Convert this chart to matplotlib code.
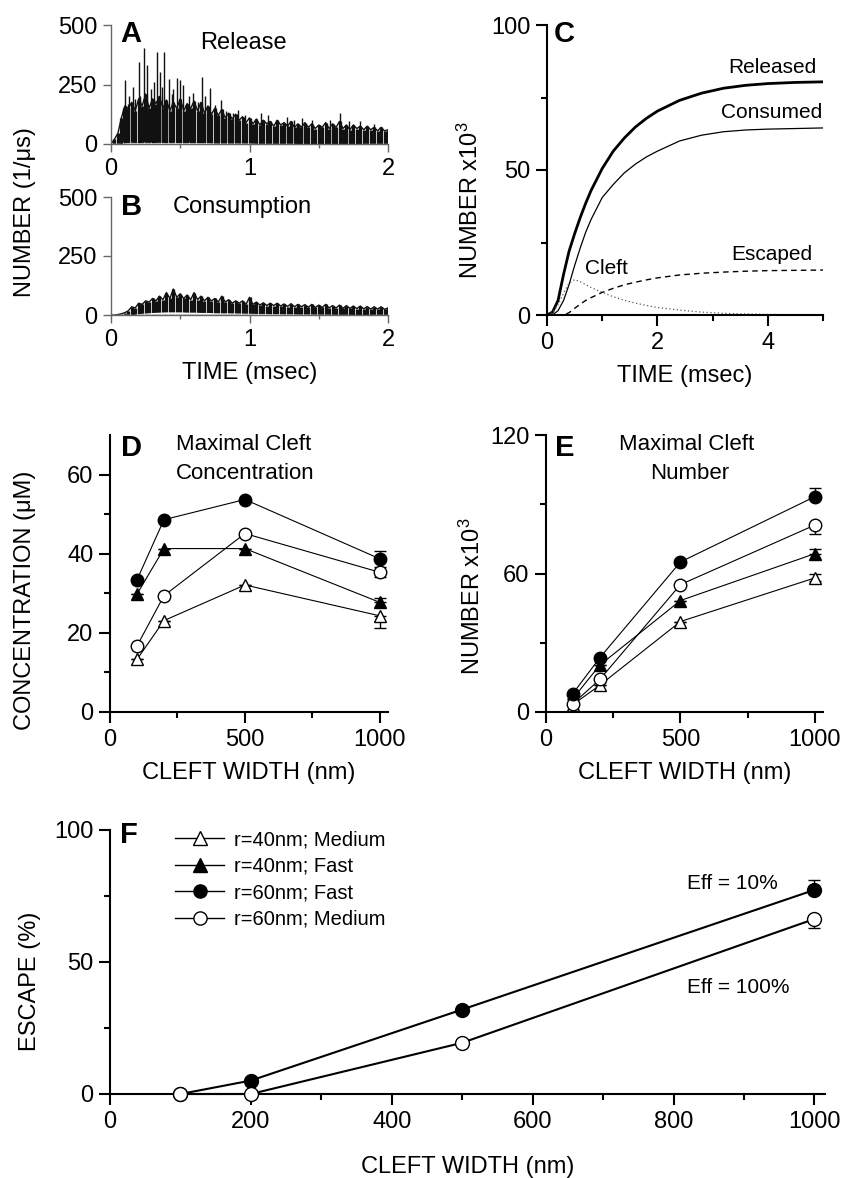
import matplotlib
matplotlib.use('Agg')
import matplotlib.pyplot as plt
import numpy as np
from matplotlib.lines import Line2D
from matplotlib.ticker import FixedLocator

plt.rcParams['font.family'] = ['Liberation Sans', 'DejaVu Sans']
plt.rcParams['mathtext.fontset'] = 'custom'
plt.rcParams['mathtext.rm'] = 'Liberation Sans'
plt.rcParams['mathtext.it'] = 'Liberation Sans:italic'

# ---------------- data ----------------
# Panels A/B: coarse time bins (ms): lower edge of each trace (1/us)
t_bins = [0.00, 0.05, 0.10, 0.15, 0.20, 0.25, 0.30, 0.35, 0.40, 0.45, 0.50,
          0.55, 0.60, 0.65, 0.70, 0.75, 0.80, 0.85, 0.90, 0.95, 1.00,
          1.05, 1.10, 1.15, 1.20, 1.25, 1.30, 1.35, 1.40, 1.45, 1.50,
          1.55, 1.60, 1.65, 1.70, 1.75, 1.80, 1.85, 1.90, 1.95, 2.00]
release_low = [0, 0, 10, 12, 10, 12, 10, 12, 10, 12, 10,
               10, 10, 10, 10, 8, 8, 8, 8, 8, 8,
               6, 6, 6, 6, 6, 6, 5, 5, 5, 5,
               5, 5, 5, 5, 5, 5, 4, 4, 4, 4]
consume_low = [0, 0, 0, 4, 10, 14, 18, 20, 22, 22, 22,
               20, 20, 18, 18, 16, 15, 15, 14, 13, 12,
               11, 11, 10, 10, 9, 9, 8, 8, 8, 7,
               7, 6, 6, 6, 5, 5, 5, 4, 4, 4]

# fine time grid (ms) and peak values of each trace (1/us)
t_fine = [0.000, 0.025, 0.050, 0.075, 0.100, 0.125, 0.150, 0.175, 0.200, 0.225,
          0.250, 0.275, 0.300, 0.325, 0.350, 0.375, 0.400, 0.425, 0.450, 0.475,
          0.500, 0.525, 0.550, 0.575, 0.600, 0.625, 0.650, 0.675, 0.700, 0.725,
          0.750, 0.775, 0.800, 0.825, 0.850, 0.875, 0.900, 0.925, 0.950, 0.975,
          1.000, 1.025, 1.050, 1.075, 1.100, 1.125, 1.150, 1.175, 1.200, 1.225,
          1.250, 1.275, 1.300, 1.325, 1.350, 1.375, 1.400, 1.425, 1.450, 1.475,
          1.500, 1.525, 1.550, 1.575, 1.600, 1.625, 1.650, 1.675, 1.700, 1.725,
          1.750, 1.775, 1.800, 1.825, 1.850, 1.875, 1.900, 1.925, 1.950, 1.975,
          2.000]
release_peaks = [0, 20, 45, 110, 160, 150, 175, 140, 190, 160,
                 210, 150, 190, 170, 200, 150, 185, 140, 175, 150,
                 190, 140, 170, 150, 180, 140, 175, 130, 160, 125,
                 150, 120, 145, 110, 130, 105, 125, 100, 115, 90,
                 110, 85, 105, 80, 100, 85, 95, 75, 100, 80,
                 90, 75, 95, 70, 85, 70, 90, 70, 85, 65,
                 80, 70, 90, 65, 85, 70, 95, 65, 80, 60,
                 80, 65, 75, 60, 75, 60, 70, 55, 70, 55,
                 60]
consume_peaks = [0, 0, 2, 5, 10, 18, 35, 30, 50, 45,
                 60, 55, 70, 60, 80, 65, 95, 70, 110, 75,
                 90, 70, 85, 65, 95, 65, 80, 60, 75, 60,
                 70, 55, 80, 55, 65, 50, 60, 50, 60, 45,
                 75, 45, 55, 42, 52, 40, 50, 40, 50, 38,
                 47, 36, 48, 35, 45, 35, 44, 33, 45, 32,
                 42, 32, 45, 30, 40, 30, 42, 28, 40, 28,
                 38, 27, 38, 26, 36, 25, 35, 25, 35, 24,
                 30]
release_spike_t = [0.090, 0.104, 0.120, 0.130, 0.161, 0.170, 0.200, 0.210, 0.236,
                   0.258, 0.289, 0.310, 0.330, 0.357, 0.370, 0.386, 0.417, 0.440,
                   0.450, 0.475, 0.500, 0.520, 0.542, 0.560, 0.590, 0.630, 0.655,
                   0.680, 0.716, 0.750, 0.795, 0.830, 0.880, 0.916, 0.970, 1.080,
                   1.130, 1.270, 1.320, 1.380, 1.450, 1.580, 1.655, 1.720, 1.800,
                   1.900]
release_spike_h = [150, 269, 170, 200, 238, 190, 346, 200, 405,
                   332, 230, 260, 385, 304, 240, 388, 272, 210,
                   230, 276, 269, 250, 164, 200, 213, 175, 280,
                   200, 234, 165, 185, 140, 130, 143, 120, 129,
                   120, 115, 100, 110, 100, 100, 129, 95, 95,
                   85]

# Panel C: cumulative numbers (x10^3)
C_t = [0, 0.1, 0.2, 0.3, 0.4, 0.5, 0.6, 0.7, 0.8, 1.0, 1.2, 1.4, 1.6, 1.8,
       2.0, 2.4, 2.8, 3.2, 3.6, 4.0, 4.5, 5.0]
released = [0, 1, 5, 14, 22, 28, 33.5, 38.5, 43, 50.5, 56.5, 61, 64.8, 67.8,
            70.3, 74, 76.5, 78.2, 79.2, 79.8, 80.2, 80.4]
consumed = [0, 0, 1.5, 5, 10.5, 17, 23, 28.5, 33, 40.5, 45, 49, 52, 54.5,
            56.5, 60, 62, 63.2, 63.8, 64.1, 64.3, 64.5]
escaped = [0, 0, 0, 0, 0.8, 2.3, 3.7, 5, 6, 7.8, 9.2, 10.4, 11.3, 12.1,
           12.8, 13.8, 14.4, 14.8, 15.1, 15.3, 15.4, 15.5]
cleft = [0, 0.8, 3.5, 7.5, 11, 12.2, 11.5, 10.5, 9.5, 7.8, 6.3, 5.1, 4.1, 3.3,
         2.6, 1.7, 1.0, 0.6, 0.35, 0.2, 0.1, 0]

# Panels D, E, F
widths = [100, 200, 500, 1000]
labels = ['r=40nm; Medium', 'r=40nm; Fast', 'r=60nm; Fast', 'r=60nm; Medium']

D_r40_med = [13.3, 23.1, 32.1, 24.3]
D_r40_fast = [29.8, 41.3, 41.3, 27.7]
D_r60_fast = [33.4, 48.6, 53.7, 38.7]
D_r60_med = [16.7, 29.4, 45.1, 35.3]
D_err_lo = {'r40_med': [0, 0, 0, 3.0], 'r40_fast': [0, 0, 0, 0],
            'r60_fast': [0, 0, 0, 0], 'r60_med': [0, 0, 0, 1.3]}
D_err_hi = {'r40_med': [0, 0, 0, 0], 'r40_fast': [0, 0, 0, 1.2],
            'r60_fast': [0, 0, 0, 1.9], 'r60_med': [0, 0, 0, 1.3]}

E_r40_med = [3.2, 11.6, 39.2, 58.1]
E_r40_fast = [5.8, 20.3, 48.3, 68.6]
E_r60_fast = [8.0, 23.5, 65.0, 93.3]
E_r60_med = [3.6, 14.1, 55.2, 81.0]
E_err_lo = {'r40_med': [0, 0, 0, 1.5], 'r40_fast': [0, 0, 0, 0],
            'r60_fast': [0, 0, 0, 0], 'r60_med': [0, 0, 0, 3.8]}
E_err_hi = {'r40_med': [0, 0, 0, 1.5], 'r40_fast': [0, 0, 0, 2.1],
            'r60_fast': [0, 0, 0, 3.9], 'r60_med': [0, 0, 0, 0]}

F_r60_fast = [0, 5.1, 32.0, 77.3]
F_r60_med = [0, 0, 19.4, 66.3]
F_err_lo = {'r60_fast': [0, 0, 0, 0], 'r60_med': [0, 0, 0, 3.4]}
F_err_hi = {'r60_fast': [0, 0, 0, 3.8], 'r60_med': [0, 0, 0, 0]}

# ---------------- figure ----------------
W, H = 842, 1178
fig = plt.figure(figsize=(W / 100, H / 100), dpi=100)


def px_axes(x0, x1, ytop, ybot):
    return fig.add_axes([x0 / W, 1 - ybot / H, (x1 - x0) / W, (ybot - ytop) / H])


TICK = 17
LAB = 17
INK = '#111111'


def style(ax, lw=1.5, color='k', maj=8, mino=4.5):
    for s in ['top', 'right']:
        ax.spines[s].set_visible(False)
    for s in ['left', 'bottom']:
        ax.spines[s].set_linewidth(lw)
        ax.spines[s].set_color(color)
    ax.tick_params(which='major', direction='out', length=maj, width=lw,
                   color=color, labelsize=TICK, pad=4)
    ax.tick_params(which='minor', direction='out', length=mino, width=lw,
                   color=color)


def trace(ax, low, peaks):
    ax.vlines(t_fine, 0, peaks, color=INK, lw=2.35, zorder=2)
    ax.plot(t_fine, peaks, color=INK, lw=1.0, zorder=2)
    # thin white streak between the trace minimum and the baseline
    ax.fill_between(t_bins, 3, np.array(low) * 0.6, color='white', lw=0, zorder=2.5)


# Panel A
axA = px_axes(111, 388, 25, 144)
trace(axA, release_low, release_peaks)
axA.vlines(release_spike_t, 8, release_spike_h, color=INK, lw=1.0, zorder=3)
axA.set_xlim(0, 2)
axA.set_ylim(0, 500)
axA.xaxis.set_major_locator(FixedLocator([0, 1, 2]))
axA.xaxis.set_minor_locator(FixedLocator([0.5, 1.5]))
axA.yaxis.set_major_locator(FixedLocator([0, 250, 500]))
style(axA, lw=1.0, color='0.4', maj=6, mino=3)
axA.text(0.032, 0.857, 'A', transform=axA.transAxes, fontsize=21, fontweight='bold')
axA.text(0.321, 0.80, 'Release', transform=axA.transAxes, fontsize=17)

# Panel B
axB = px_axes(111, 388, 197, 315)
trace(axB, consume_low, consume_peaks)
axB.set_xlim(0, 2)
axB.set_ylim(0, 500)
axB.xaxis.set_major_locator(FixedLocator([0, 1, 2]))
axB.xaxis.set_minor_locator(FixedLocator([0.5, 1.5]))
axB.yaxis.set_major_locator(FixedLocator([0, 250, 500]))
style(axB, lw=1.0, color='0.4', maj=6, mino=3)
axB.set_xlabel('TIME (msec)', fontsize=LAB, labelpad=8)
axB.text(0.035, 0.847, 'B', transform=axB.transAxes, fontsize=21, fontweight='bold')
axB.text(0.224, 0.864, 'Consumption', transform=axB.transAxes, fontsize=17)
fig.text(25 / W, 1 - 212 / H, 'NUMBER (1/\u03bcs)', rotation=90, ha='center',
         va='center', fontsize=LAB)

# Panel C
axC = px_axes(547, 823, 25, 315)
axC.plot(C_t, released, color='k', lw=2.0)
axC.plot(C_t, consumed, color='k', lw=0.9)
axC.plot(C_t, escaped, color='k', lw=1.0, ls=(0, (4, 3)))
axC.plot(C_t, cleft, color='0.35', lw=0.9, ls=(0, (1, 2)))
axC.set_xlim(0, 5)
axC.set_ylim(0, 100)
axC.xaxis.set_major_locator(FixedLocator([0, 2, 4]))
axC.xaxis.set_minor_locator(FixedLocator([1, 3, 5]))
axC.yaxis.set_major_locator(FixedLocator([0, 50, 100]))
axC.yaxis.set_minor_locator(FixedLocator([25, 75]))
style(axC)
axC.set_xlabel('TIME (msec)', fontsize=LAB, labelpad=8)
fig.text(470 / W, 1 - 200 / H, r'NUMBER x10$^{\mathrm{3}}$', rotation=90, ha='center',
         va='center', fontsize=LAB)
axC.text(0.025, 0.941, 'C', transform=axC.transAxes, fontsize=21, fontweight='bold')
axC.text(0.975, 0.834, 'Released', transform=axC.transAxes, fontsize=15, ha='right')
axC.text(0.996, 0.679, 'Consumed', transform=axC.transAxes, fontsize=15, ha='right')
axC.text(0.96, 0.19, 'Escaped', transform=axC.transAxes, fontsize=15, ha='right')
axC.text(0.138, 0.141, 'Cleft', transform=axC.transAxes, fontsize=15)


def draw_series(ax, x, y, lo, hi, marker, filled, lw=0.8, ms=9):
    ax.errorbar(x, y, yerr=[lo, hi], fmt='-', marker=marker, color='k', lw=lw,
                mfc='k' if filled else 'white', mec='k', mew=1.0, ms=ms,
                capsize=4.5, elinewidth=1.0, capthick=1.2, clip_on=False, zorder=3)


# Panel D
axD = px_axes(110, 388, 435, 712)
draw_series(axD, widths, D_r40_med, D_err_lo['r40_med'], D_err_hi['r40_med'], '^', False)
draw_series(axD, widths, D_r40_fast, D_err_lo['r40_fast'], D_err_hi['r40_fast'], '^', True)
draw_series(axD, widths, D_r60_med, D_err_lo['r60_med'], D_err_hi['r60_med'], 'o', False)
draw_series(axD, widths, D_r60_fast, D_err_lo['r60_fast'], D_err_hi['r60_fast'], 'o', True)
axD.set_xlim(0, 1030)
axD.set_ylim(0, 70)
axD.xaxis.set_major_locator(FixedLocator([0, 500, 1000]))
axD.xaxis.set_minor_locator(FixedLocator([250, 750]))
axD.yaxis.set_major_locator(FixedLocator([0, 20, 40, 60]))
axD.yaxis.set_minor_locator(FixedLocator([10, 30, 50]))
style(axD)
axD.set_xlabel('CLEFT WIDTH (nm)', fontsize=LAB, labelpad=8)
fig.text(25 / W, 1 - 600 / H, 'CONCENTRATION (\u03bcM)', rotation=90, ha='center',
         va='center', fontsize=LAB)
axD.text(0.04, 0.924, 'D', transform=axD.transAxes, fontsize=21, fontweight='bold')
axD.text(0.237, 0.946, 'Maximal Cleft', transform=axD.transAxes, fontsize=16)
axD.text(0.237, 0.841, 'Concentration', transform=axD.transAxes, fontsize=16)

# Panel E
axE = px_axes(546, 823, 435, 712)
draw_series(axE, widths, E_r40_med, E_err_lo['r40_med'], E_err_hi['r40_med'], '^', False)
draw_series(axE, widths, E_r40_fast, E_err_lo['r40_fast'], E_err_hi['r40_fast'], '^', True)
draw_series(axE, widths, E_r60_med, E_err_lo['r60_med'], E_err_hi['r60_med'], 'o', False)
draw_series(axE, widths, E_r60_fast, E_err_lo['r60_fast'], E_err_hi['r60_fast'], 'o', True)
axE.set_xlim(0, 1030)
axE.set_ylim(0, 120)
axE.xaxis.set_major_locator(FixedLocator([0, 500, 1000]))
axE.xaxis.set_minor_locator(FixedLocator([250, 750]))
axE.yaxis.set_major_locator(FixedLocator([0, 60, 120]))
axE.yaxis.set_minor_locator(FixedLocator([30, 90]))
style(axE)
axE.set_xlabel('CLEFT WIDTH (nm)', fontsize=LAB, labelpad=8)
fig.text(472 / W, 1 - 596 / H, r'NUMBER x10$^{\mathrm{3}}$', rotation=90, ha='center',
         va='center', fontsize=LAB)
axE.text(0.032, 0.924, 'E', transform=axE.transAxes, fontsize=21, fontweight='bold')
axE.text(0.509, 0.946, 'Maximal Cleft', transform=axE.transAxes, fontsize=16, ha='center')
axE.text(0.52, 0.841, 'Number', transform=axE.transAxes, fontsize=16, ha='center')

# Panel F
axF = px_axes(110, 825, 830, 1094)
draw_series(axF, widths, F_r60_fast, F_err_lo['r60_fast'], F_err_hi['r60_fast'], 'o', True, lw=1.5, ms=10)
draw_series(axF, widths, F_r60_med, F_err_lo['r60_med'], F_err_hi['r60_med'], 'o', False, lw=1.5, ms=10)
axF.set_xlim(0, 1015)
axF.set_ylim(0, 100)
axF.xaxis.set_major_locator(FixedLocator([0, 200, 400, 600, 800, 1000]))
axF.xaxis.set_minor_locator(FixedLocator([100, 300, 500, 700, 900]))
axF.yaxis.set_major_locator(FixedLocator([0, 50, 100]))
axF.yaxis.set_minor_locator(FixedLocator([25, 75]))
style(axF)
axF.set_xlabel('CLEFT WIDTH (nm)', fontsize=LAB, labelpad=17)
fig.text(30 / W, 1 - 981 / H, 'ESCAPE (%)', rotation=90, ha='center',
         va='center', fontsize=LAB)
axF.text(0.014, 0.951, 'F', transform=axF.transAxes, fontsize=21, fontweight='bold')
axF.text(0.807, 0.776, 'Eff = 10%', transform=axF.transAxes, fontsize=15)
axF.text(0.807, 0.383, 'Eff = 100%', transform=axF.transAxes, fontsize=15)

handles = [
    Line2D([], [], color='k', lw=1.0, marker='^', mfc='white', mec='k', ms=9.5),
    Line2D([], [], color='k', lw=1.0, marker='^', mfc='k', mec='k', ms=9.5),
    Line2D([], [], color='k', lw=1.0, marker='o', mfc='k', mec='k', ms=9.5),
    Line2D([], [], color='k', lw=1.0, marker='o', mfc='white', mec='k', ms=9.5),
]
axF.legend(handles, labels, loc='upper left', bbox_to_anchor=(0.091, 1.0),
           frameon=False, fontsize=14.5, handlelength=2.45, handletextpad=0.5,
           labelspacing=0.38, borderpad=0, borderaxespad=0)

fig.savefig('out.png', dpi=100)
